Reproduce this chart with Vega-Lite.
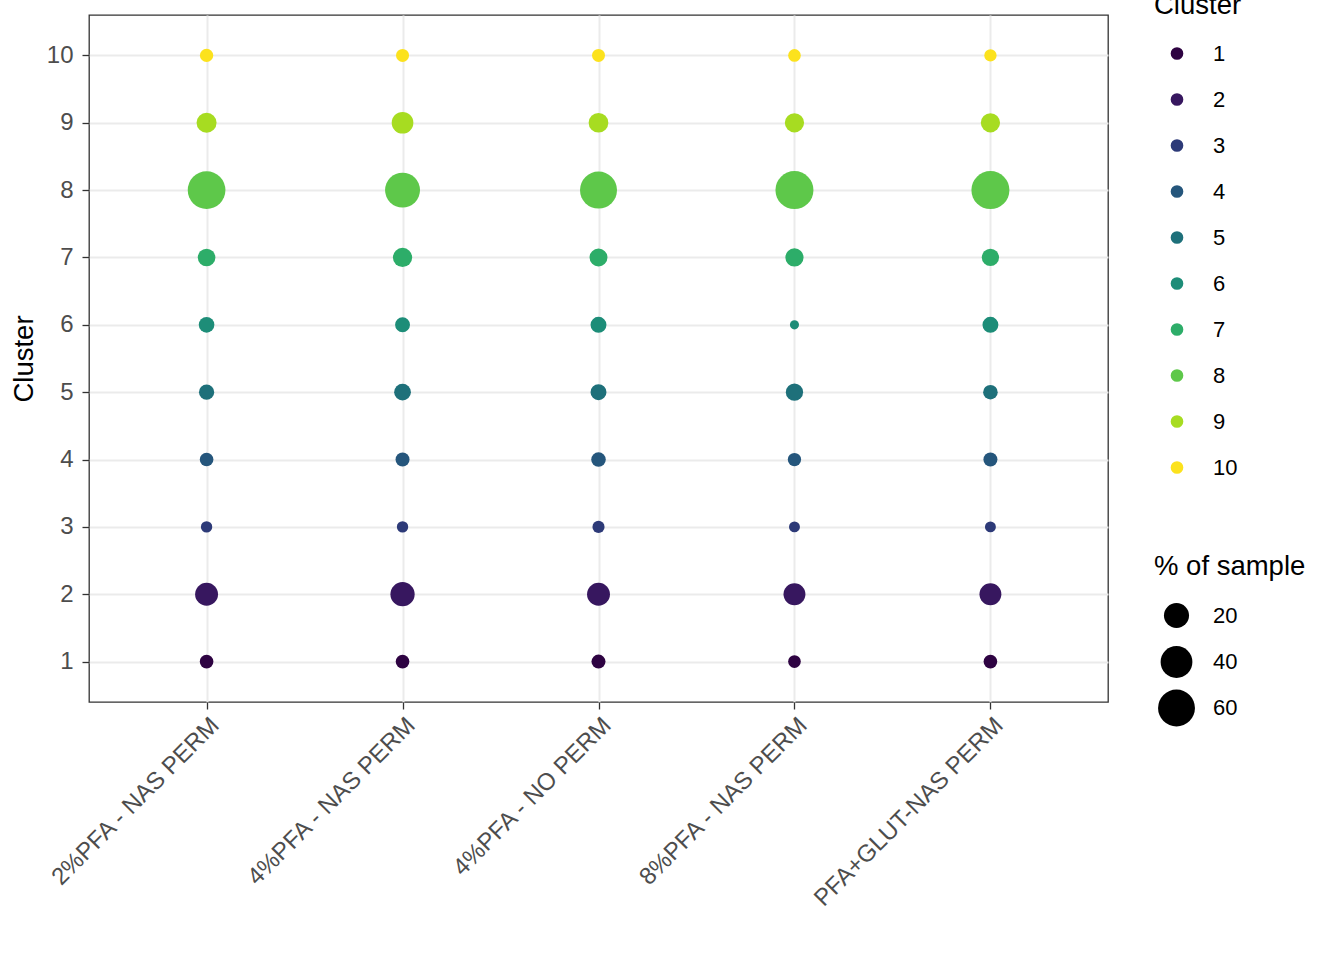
{
  "$schema": "https://vega.github.io/schema/vega-lite/v6.json",
  "autosize": "none",
  "width": 1019,
  "height": 687,
  "padding": {"left": 89, "top": 15, "right": 236, "bottom": 258},
  "background": "white",
  "config": {
    "font": "Liberation Sans",
    "view": {"stroke": "#333333", "strokeWidth": 1.3},
    "axis": {
      "domain": false,
      "grid": true,
      "gridColor": "#EBEBEB",
      "gridWidth": 2,
      "tickColor": "#333333",
      "tickSize": 7,
      "tickWidth": 1.3,
      "labelFontSize": 24,
      "labelColor": "#4D4D4D",
      "labelPadding": 9,
      "labelLimit": 0,
      "titleFontSize": 27.5,
      "titleFontWeight": "normal",
      "titleColor": "black"
    },
    "legend": {
      "orient": "none",
      "padding": 0,
      "titleFontSize": 27.5,
      "titleFontWeight": "normal",
      "titleColor": "black",
      "labelFontSize": 22,
      "labelColor": "black",
      "symbolType": "circle"
    }
  },
  "data": {
    "values": [
      {"sample": "2%PFA - NAS PERM", "cluster": 1, "pct": 1.9},
      {"sample": "2%PFA - NAS PERM", "cluster": 2, "pct": 15.2},
      {"sample": "2%PFA - NAS PERM", "cluster": 3, "pct": 0.8},
      {"sample": "2%PFA - NAS PERM", "cluster": 4, "pct": 1.9},
      {"sample": "2%PFA - NAS PERM", "cluster": 5, "pct": 3.3},
      {"sample": "2%PFA - NAS PERM", "cluster": 6, "pct": 3.7},
      {"sample": "2%PFA - NAS PERM", "cluster": 7, "pct": 6.0},
      {"sample": "2%PFA - NAS PERM", "cluster": 8, "pct": 63.4},
      {"sample": "2%PFA - NAS PERM", "cluster": 9, "pct": 9.5},
      {"sample": "2%PFA - NAS PERM", "cluster": 10, "pct": 1.7},
      {"sample": "4%PFA - NAS PERM", "cluster": 1, "pct": 1.9},
      {"sample": "4%PFA - NAS PERM", "cluster": 2, "pct": 18.1},
      {"sample": "4%PFA - NAS PERM", "cluster": 3, "pct": 0.8},
      {"sample": "4%PFA - NAS PERM", "cluster": 4, "pct": 2.2},
      {"sample": "4%PFA - NAS PERM", "cluster": 5, "pct": 4.8},
      {"sample": "4%PFA - NAS PERM", "cluster": 6, "pct": 3.0},
      {"sample": "4%PFA - NAS PERM", "cluster": 7, "pct": 8.3},
      {"sample": "4%PFA - NAS PERM", "cluster": 8, "pct": 52.1},
      {"sample": "4%PFA - NAS PERM", "cluster": 9, "pct": 12.6},
      {"sample": "4%PFA - NAS PERM", "cluster": 10, "pct": 1.5},
      {"sample": "4%PFA - NO PERM", "cluster": 1, "pct": 2.2},
      {"sample": "4%PFA - NO PERM", "cluster": 2, "pct": 15.2},
      {"sample": "4%PFA - NO PERM", "cluster": 3, "pct": 1.0},
      {"sample": "4%PFA - NO PERM", "cluster": 4, "pct": 2.7},
      {"sample": "4%PFA - NO PERM", "cluster": 5, "pct": 4.0},
      {"sample": "4%PFA - NO PERM", "cluster": 6, "pct": 4.0},
      {"sample": "4%PFA - NO PERM", "cluster": 7, "pct": 6.4},
      {"sample": "4%PFA - NO PERM", "cluster": 8, "pct": 60.4},
      {"sample": "4%PFA - NO PERM", "cluster": 9, "pct": 9.0},
      {"sample": "4%PFA - NO PERM", "cluster": 10, "pct": 1.5},
      {"sample": "8%PFA - NAS PERM", "cluster": 1, "pct": 1.3},
      {"sample": "8%PFA - NAS PERM", "cluster": 2, "pct": 13.1},
      {"sample": "8%PFA - NAS PERM", "cluster": 3, "pct": 0.7},
      {"sample": "8%PFA - NAS PERM", "cluster": 4, "pct": 1.7},
      {"sample": "8%PFA - NAS PERM", "cluster": 5, "pct": 5.5},
      {"sample": "8%PFA - NAS PERM", "cluster": 6, "pct": 0.3},
      {"sample": "8%PFA - NAS PERM", "cluster": 7, "pct": 6.8},
      {"sample": "8%PFA - NAS PERM", "cluster": 8, "pct": 64.7},
      {"sample": "8%PFA - NAS PERM", "cluster": 9, "pct": 8.3},
      {"sample": "8%PFA - NAS PERM", "cluster": 10, "pct": 1.3},
      {"sample": "PFA+GLUT-NAS PERM", "cluster": 1, "pct": 1.9},
      {"sample": "PFA+GLUT-NAS PERM", "cluster": 2, "pct": 13.1},
      {"sample": "PFA+GLUT-NAS PERM", "cluster": 3, "pct": 0.7},
      {"sample": "PFA+GLUT-NAS PERM", "cluster": 4, "pct": 2.2},
      {"sample": "PFA+GLUT-NAS PERM", "cluster": 5, "pct": 2.7},
      {"sample": "PFA+GLUT-NAS PERM", "cluster": 6, "pct": 4.0},
      {"sample": "PFA+GLUT-NAS PERM", "cluster": 7, "pct": 5.5},
      {"sample": "PFA+GLUT-NAS PERM", "cluster": 8, "pct": 64.7},
      {"sample": "PFA+GLUT-NAS PERM", "cluster": 9, "pct": 8.3},
      {"sample": "PFA+GLUT-NAS PERM", "cluster": 10, "pct": 1.1}
    ]
  },
  "mark": {"type": "circle", "opacity": 1},
  "encoding": {
    "x": {
      "field": "sample",
      "type": "nominal",
      "sort": null,
      "scale": {"type": "point", "padding": 0.6},
      "axis": {"title": null, "labelAngle": -45, "labelAlign": "right", "labelBaseline": "top", "labelPadding": 4}
    },
    "y": {
      "field": "cluster",
      "type": "quantitative",
      "scale": {"domain": [0.4, 10.6], "nice": false, "zero": false},
      "axis": {"title": "Cluster", "values": [1, 2, 3, 4, 5, 6, 7, 8, 9, 10], "titlePadding": 8}
    },
    "color": {
      "field": "cluster",
      "type": "nominal",
      "scale": {
        "domain": [1, 2, 3, 4, 5, 6, 7, 8, 9, 10],
        "range": ["#2E0342", "#37175F", "#2D3A78", "#25567C", "#1E707A", "#1D8D78", "#2DAD69", "#5EC84A", "#A7DC21", "#FCE21D"]
      },
      "legend": {
        "title": "Cluster",
        "legendX": 1065,
        "legendY": -23,
        "symbolSize": 160,
        "rowPadding": 24,
        "titlePadding": 23,
        "symbolOffset": 12,
        "labelOffset": 25
      }
    },
    "size": {
      "field": "pct",
      "type": "quantitative",
      "scale": {
        "domain": [0.3, 1, 2, 5, 10, 20, 40, 65],
        "range": [83, 147, 190, 286, 413, 629, 1010, 1449]
      },
      "legend": {
        "title": "% of sample",
        "values": [20, 40, 60],
        "legendX": 1065,
        "legendY": 538,
        "gridAlign": "all",
        "symbolFillColor": "black",
        "symbolStrokeWidth": 0,
        "symbolOpacity": 1,
        "rowPadding": 6.5,
        "titlePadding": 22,
        "symbolOffset": 4,
        "labelOffset": 18
      }
    }
  }
}
